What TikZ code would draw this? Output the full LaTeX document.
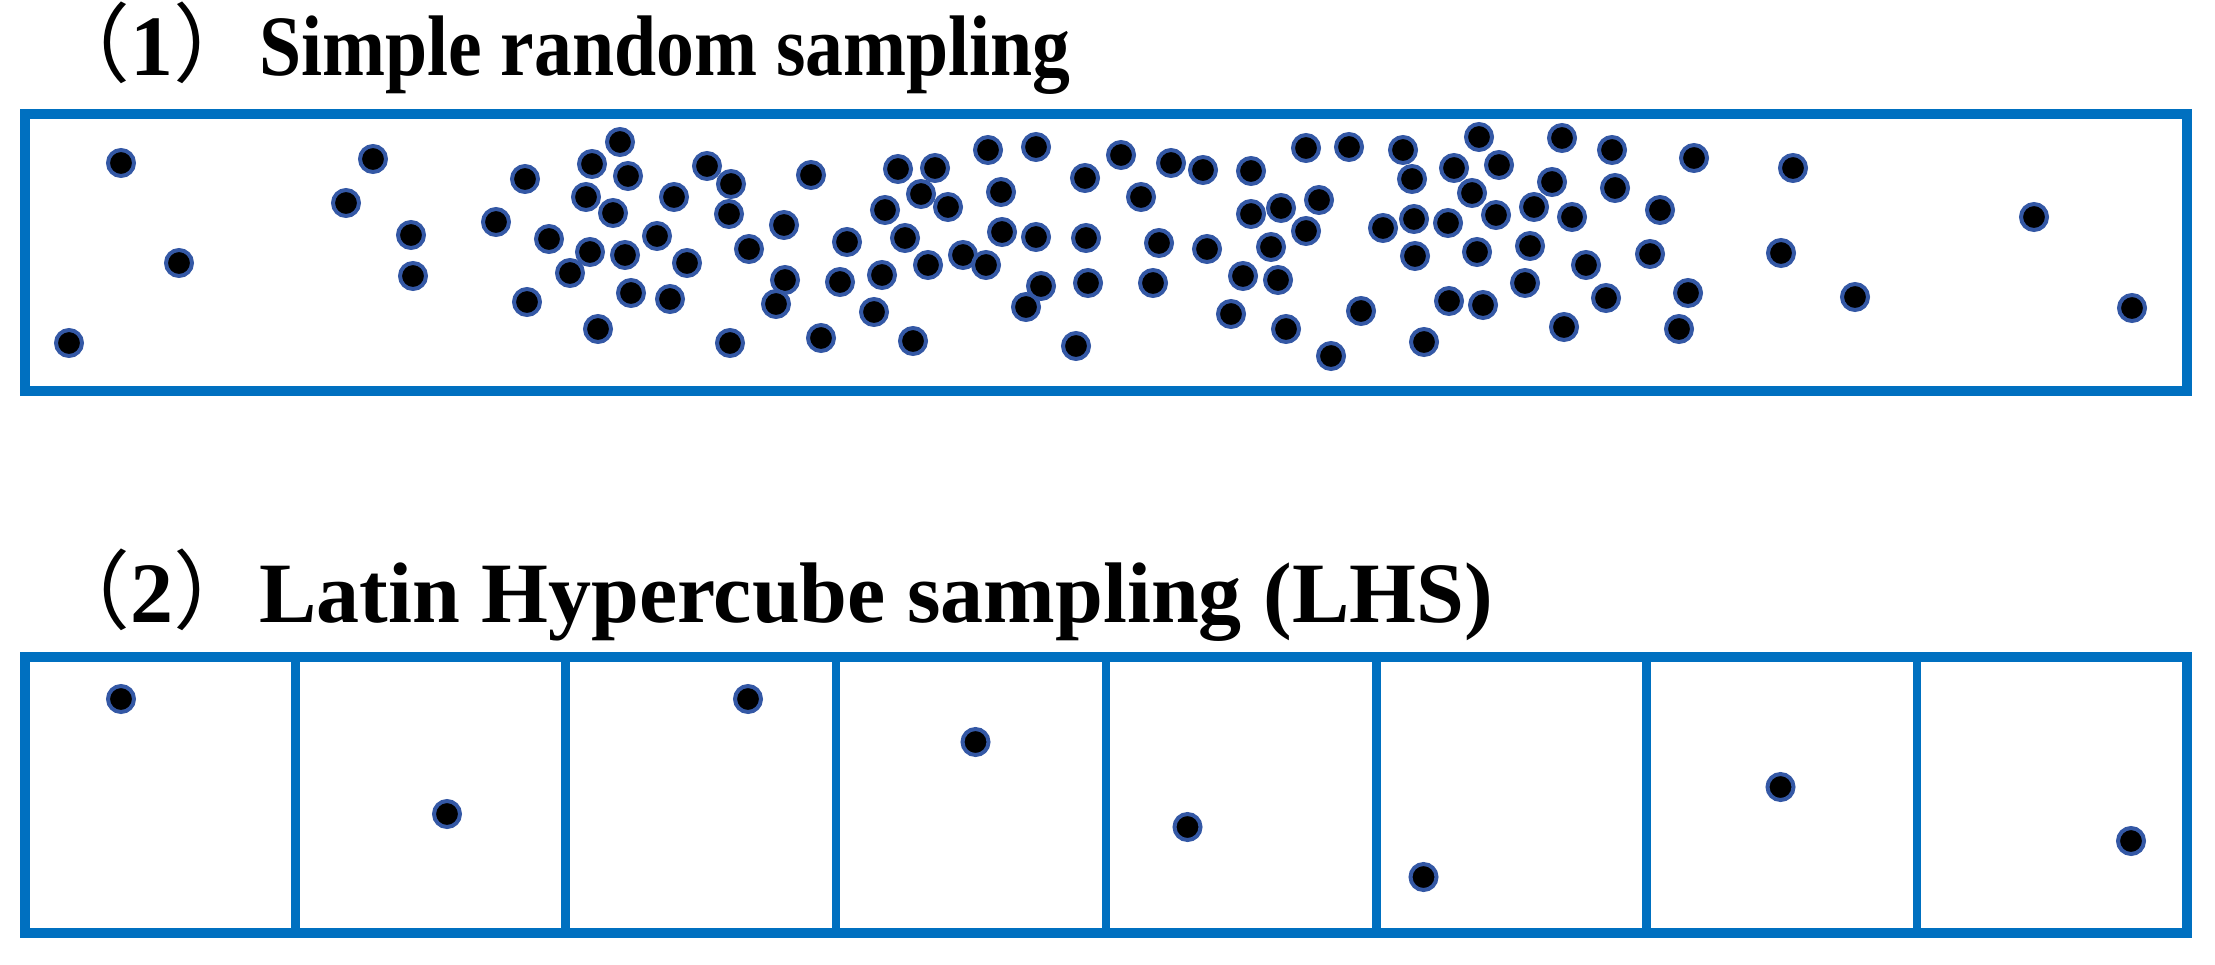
\documentclass[tikz,border=0pt]{standalone}
\usepackage{graphicx}
\usepackage{fontspec}
\setmainfont{Liberation Serif}
\newfontfamily\cjk{Noto Sans CJK SC}
\definecolor{frameblue}{RGB}{0,112,192}
\definecolor{dotblue}{RGB}{52,88,165}
\tikzset{
  dotnode/.style={circle, fill=black, draw=dotblue, line width=4pt, minimum size=26pt, inner sep=0pt},
  framebox/.style={rectangle, draw=frameblue, line width=9.5pt, inner sep=0pt},
  divider/.style={draw=frameblue, line width=8.5pt},
  titletext/.style={anchor=base west, inner sep=0pt, font=\fontsize{86pt}{90pt}\selectfont\bfseries}
}
\begin{document}
\begin{tikzpicture}[x=1pt,y=-1pt]
\useasboundingbox (0,0) rectangle (2215,964);
% titles
\node[titletext] (t1) at (44,75) {{\cjk\mdseries （}1{\cjk\mdseries ）}\scalebox{0.88}[1]{Simple random sampling}};
\node[titletext] (t2) at (44,622) {{\cjk\mdseries （}2{\cjk\mdseries ）}Latin Hypercube sampling (LHS)};
% boxes
\node[framebox, minimum width=2162pt, minimum height=277pt] (srs) at (1106,252.5) {};
\node[framebox, minimum width=2162pt, minimum height=276pt] (lhs) at (1106,795) {};
\foreach \k in {1,...,7} {
  \coordinate (dt\k) at (25+\k*270.25,657);
  \coordinate (db\k) at (25+\k*270.25,933);
  \draw[divider] (dt\k) -- (db\k);
}
% simple random sampling dots
\foreach \x/\y [count=\i] in {
121/163,179/263,69/343,373/159,346/203,411/235,413/276,525/179,496/222,549/239,
570/273,527/302,620/142,592/164,628/176,586/197,613/213,674/197,590/252,625/255,
657/236,687/263,631/293,670/299,598/329,707/166,731/184,729/214,749/249,784/225,
811/175,785/280,776/304,730/343,821/338,847/242,840/282,882/275,874/312,913/341,
898/169,935/168,885/210,921/194,948/207,905/238,928/265,963/255,986/265,988/150,
1036/147,1001/192,1002/232,1036/237,1041/286,1026/307,1076/346,1085/178,1086/238,1088/283,
1121/155,1141/197,1171/163,1203/170,1159/243,1207/249,1153/283,1251/171,1306/148,1349/147,
1251/214,1281/208,1319/200,1306/231,1271/247,1243/276,1278/280,1231/314,1286/329,1331/356,
1361/311,1403/150,1412/179,1383/228,1414/219,1415/256,1448/223,1454/168,1479/137,1499/165,
1472/193,1496/215,1477/252,1449/301,1483/305,1424/342,1562/138,1552/182,1534/207,1572/217,
1530/246,1525/283,1586/265,1564/327,1606/298,1612/150,1615/188,1650/254,1694/158,1793/168,
1660/210,1781/253,1688/293,1679/329,1855/297,2034/217,2132/308}
  \node[dotnode] (s\i) at (\x,\y) {};
% LHS dots
\foreach \x/\y [count=\i] in {121/699,447/814,748/699,975.5/742,1187.5/827,1423.5/877,1780.5/787,2131/841}
  \node[dotnode] (l\i) at (\x,\y) {};
\end{tikzpicture}
\end{document}
